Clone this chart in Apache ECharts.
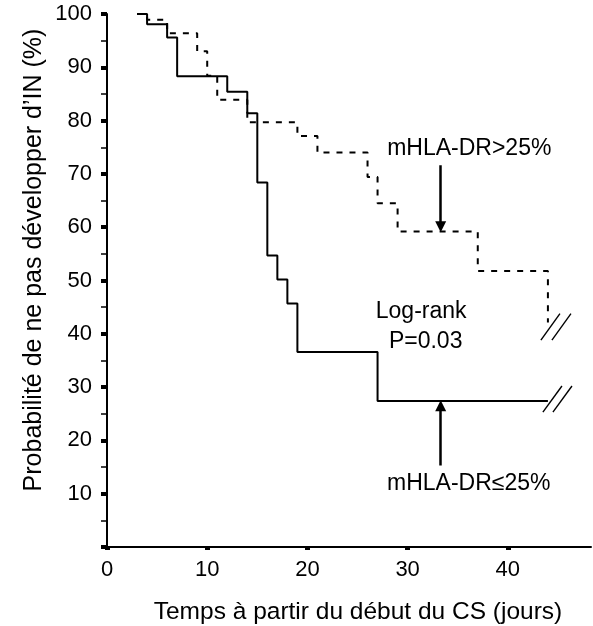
<!DOCTYPE html>
<html>
<head>
<meta charset="utf-8">
<title>Survie sans IN</title>
<script src="https://cdn.jsdelivr.net/npm/echarts@6/dist/echarts.min.js"></script>
<style>
  html, body { margin: 0; padding: 0; background: #fff; }
  #chart { width: 593px; height: 626px; }
</style>
</head>
<body>
<div id="chart"></div>
<script>
// courbes de Kaplan-Meier (jours, %)
const lowDays = [3, 4, 6, 7, 12, 14, 15, 16, 17, 18, 19, 27, 44];
const lowSurv = [100, 98.1, 95.6, 88.3, 85.4, 81.4, 68.4, 54.7, 50.2, 45.7, 36.6, 27.4, 27.4];
const highDays = [3, 4, 6, 9, 10, 11, 14, 19, 21, 26, 27, 29, 37, 44];
const highSurv = [100, 98.9, 96.4, 93.0, 88.4, 83.9, 79.7, 77.1, 74.0, 69.4, 64.5, 59.2, 51.8, 42.1];

// ticks
const xTicks = [0, 10, 20, 30, 40];
const yTicks = [10, 20, 30, 40, 50, 60, 70, 80, 90, 100];

// fleches (x, y debut -> x, y fin)
const arrowHigh = [[33.3, 71.6], [33.3, 60.1]];
const arrowLow = [[33.3, 15.3], [33.3, 26.5]];

// marques de coupure //
const breakHigh = [[[43.3, 38.8], [45.2, 43.8]], [[44.4, 38.8], [46.3, 43.8]]];
const breakLow = [[[43.5, 25.3], [45.4, 30.2]], [[44.5, 25.3], [46.4, 30.2]]];

// textes
const notes = [
  { text: 'mHLA-DR>25%', pos: [36.15, 74.8] },
  { text: 'Log-rank', pos: [31.35, 44.2] },
  { text: 'P=0.03', pos: [31.8, 38.5] },
  { text: 'mHLA-DR≤25%', pos: [36.1, 11.8] }
];

const FONT = '"Liberation Sans", Arial, sans-serif';

const chart = echarts.init(document.getElementById('chart'));

const option = {
  animation: false,
  grid: { left: 107, top: 14, width: 484, height: 533 },
  xAxis: {
    type: 'value',
    min: 0,
    max: 48.3,
    splitLine: { show: false },
    axisLine: { lineStyle: { color: '#000', width: 2 } },
    axisTick: { customValues: xTicks, length: 3, lineStyle: { color: '#000', width: 5 } },
    axisLabel: { customValues: xTicks, margin: 12, color: '#000', fontSize: 22, fontFamily: FONT }
  },
  yAxis: {
    type: 'value',
    min: 0,
    max: 100,
    interval: 10,
    splitLine: { show: false },
    axisLine: { show: true, lineStyle: { color: '#000', width: 2 } },
    axisTick: { show: true, length: 6, lineStyle: { color: '#000', width: 4 } },
    minorTick: { show: true, splitNumber: 2, length: 6, lineStyle: { color: '#000', width: 1.5 } },
    axisLabel: { customValues: yTicks, margin: 15, color: '#000', fontSize: 22, fontFamily: FONT }
  },
  graphic: [
    {
      type: 'text',
      x: 34,
      y: 260,
      rotation: Math.PI / 2,
      style: {
        text: 'Probabilité de ne pas développer d’IN (%)',
        font: '25px ' + FONT,
        fill: '#000',
        align: 'center',
        verticalAlign: 'middle'
      }
    },
    {
      type: 'text',
      x: 358,
      y: 612,
      style: {
        text: 'Temps à partir du début du CS (jours)',
        font: '24.5px ' + FONT,
        fill: '#000',
        align: 'center',
        verticalAlign: 'middle'
      }
    }
  ],
  series: [
    {
      name: 'mHLA-DR≤25%',
      type: 'line',
      step: 'end',
      symbol: 'none',
      lineStyle: { color: '#000', width: 2 },
      data: lowDays.map((d, i) => [d, lowSurv[i]])
    },
    {
      name: 'mHLA-DR>25%',
      type: 'line',
      step: 'end',
      symbol: 'none',
      lineStyle: { color: '#000', width: 2, type: [6, 7] },
      data: highDays.map((d, i) => [d, highSurv[i]])
    },
    {
      type: 'lines',
      coordinateSystem: 'cartesian2d',
      symbol: ['none', 'triangle'],
      symbolSize: 11,
      lineStyle: { color: '#000', width: 2.5, opacity: 1 },
      itemStyle: { color: '#000' },
      data: [{ coords: arrowHigh }, { coords: arrowLow }]
    },
    {
      type: 'lines',
      coordinateSystem: 'cartesian2d',
      symbol: 'none',
      lineStyle: { color: '#000', width: 1.4, opacity: 1 },
      data: breakHigh.concat(breakLow).map(c => ({ coords: c }))
    },
    {
      type: 'scatter',
      symbolSize: 0,
      silent: true,
      itemStyle: { opacity: 1, color: '#000' },
      label: {
        show: true,
        position: 'inside',
        color: '#000',
        opacity: 1,
        fontSize: 23,
        fontFamily: FONT,
        formatter: p => p.data.name
      },
      data: notes.map(n => ({ name: n.text, value: n.pos }))
    }
  ]
};

chart.setOption(option);
</script>
</body>
</html>
